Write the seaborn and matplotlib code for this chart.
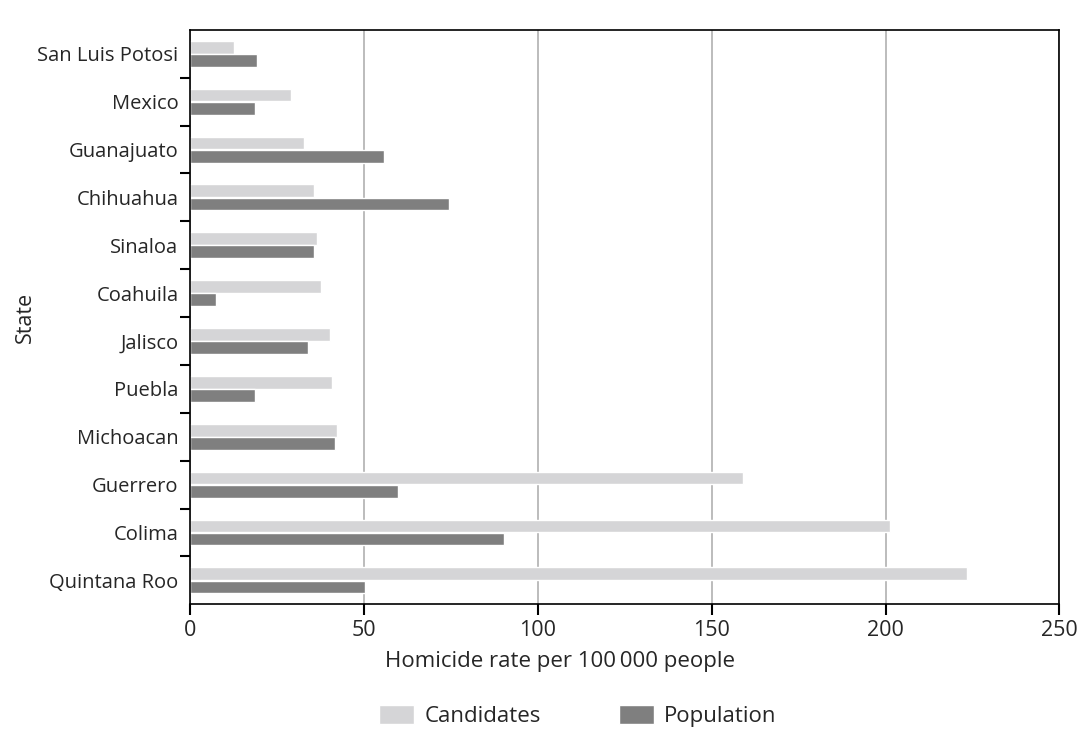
import pandas as pd
import matplotlib.pyplot as plt
import seaborn as sns
from matplotlib.patches import Patch

# datos
estados = ["San Luis Potosi", "Mexico", "Guanajuato", "Chihuahua", "Sinaloa", "Coahuila",
           "Jalisco", "Puebla", "Michoacan", "Guerrero", "Colima", "Quintana Roo"]
candidatos = [12.7, 29.0, 33.0, 35.7, 36.5, 37.7, 40.3, 41.0, 42.3, 159.0, 201.4, 223.5]
poblacion = [19.3, 18.7, 56.0, 74.5, 35.7, 7.5, 34.0, 18.7, 41.7, 60.0, 90.3, 50.3]

df = pd.DataFrame({
    "estado": estados * 2,
    "tasa": candidatos + poblacion,
    "grupo": ["Candidates"] * len(estados) + ["Population"] * len(estados),
})

sns.set_style("white")
plt.rcParams["font.family"] = ["Open Sans", "DejaVu Sans"]
colores = {"Candidates": "#d5d5d7", "Population": "#7f7f7f"}

fig, ax = plt.subplots(figsize=(10.9, 7.47), dpi=100)
fig.subplots_adjust(left=0.174, right=0.972, top=0.96, bottom=0.191)

sns.barplot(data=df, y="estado", x="tasa", hue="grupo", order=estados,
            palette=colores, orient="h", width=0.55, gap=0.03, ax=ax, legend=False)

ax.set_xlim(0, 250)
ax.set_ylim(11.5, -0.5)
ax.set_xticks([0, 50, 100, 150, 200, 250])
ax.xaxis.grid(True, color="#b0b0b0", linewidth=1.2)
ax.set_axisbelow(True)

# ticks del eje y entre categorias
ax.set_yticks([i + 0.5 for i in range(len(estados) - 1)], minor=True)
ax.tick_params(axis="y", which="major", length=0, labelsize=14.5, pad=8)
ax.tick_params(axis="y", which="minor", length=7, width=1.5, color="black", left=True)
ax.tick_params(axis="x", length=8, width=1.5, color="black", bottom=True, labelsize=15.5, pad=3)

for s in ax.spines.values():
    s.set_color("black")
    s.set_linewidth(1.2)

ax.set_xlabel("Homicide rate per 100\u2009000 people", fontsize=16)
ax.xaxis.set_label_coords(0.426, -0.082)
ax.set_ylabel("State", fontsize=15.5, labelpad=1)

handles = [Patch(facecolor=colores["Candidates"]), Patch(facecolor=colores["Population"])]
fig.legend(handles, ["Candidates", "Population"], loc="center", bbox_to_anchor=(0.530, 0.042),
           ncol=2, frameon=False, fontsize=16, handlelength=1.6, handleheight=0.95,
           handletextpad=0.45, columnspacing=3.5)

plt.savefig("out.png", dpi=100)
